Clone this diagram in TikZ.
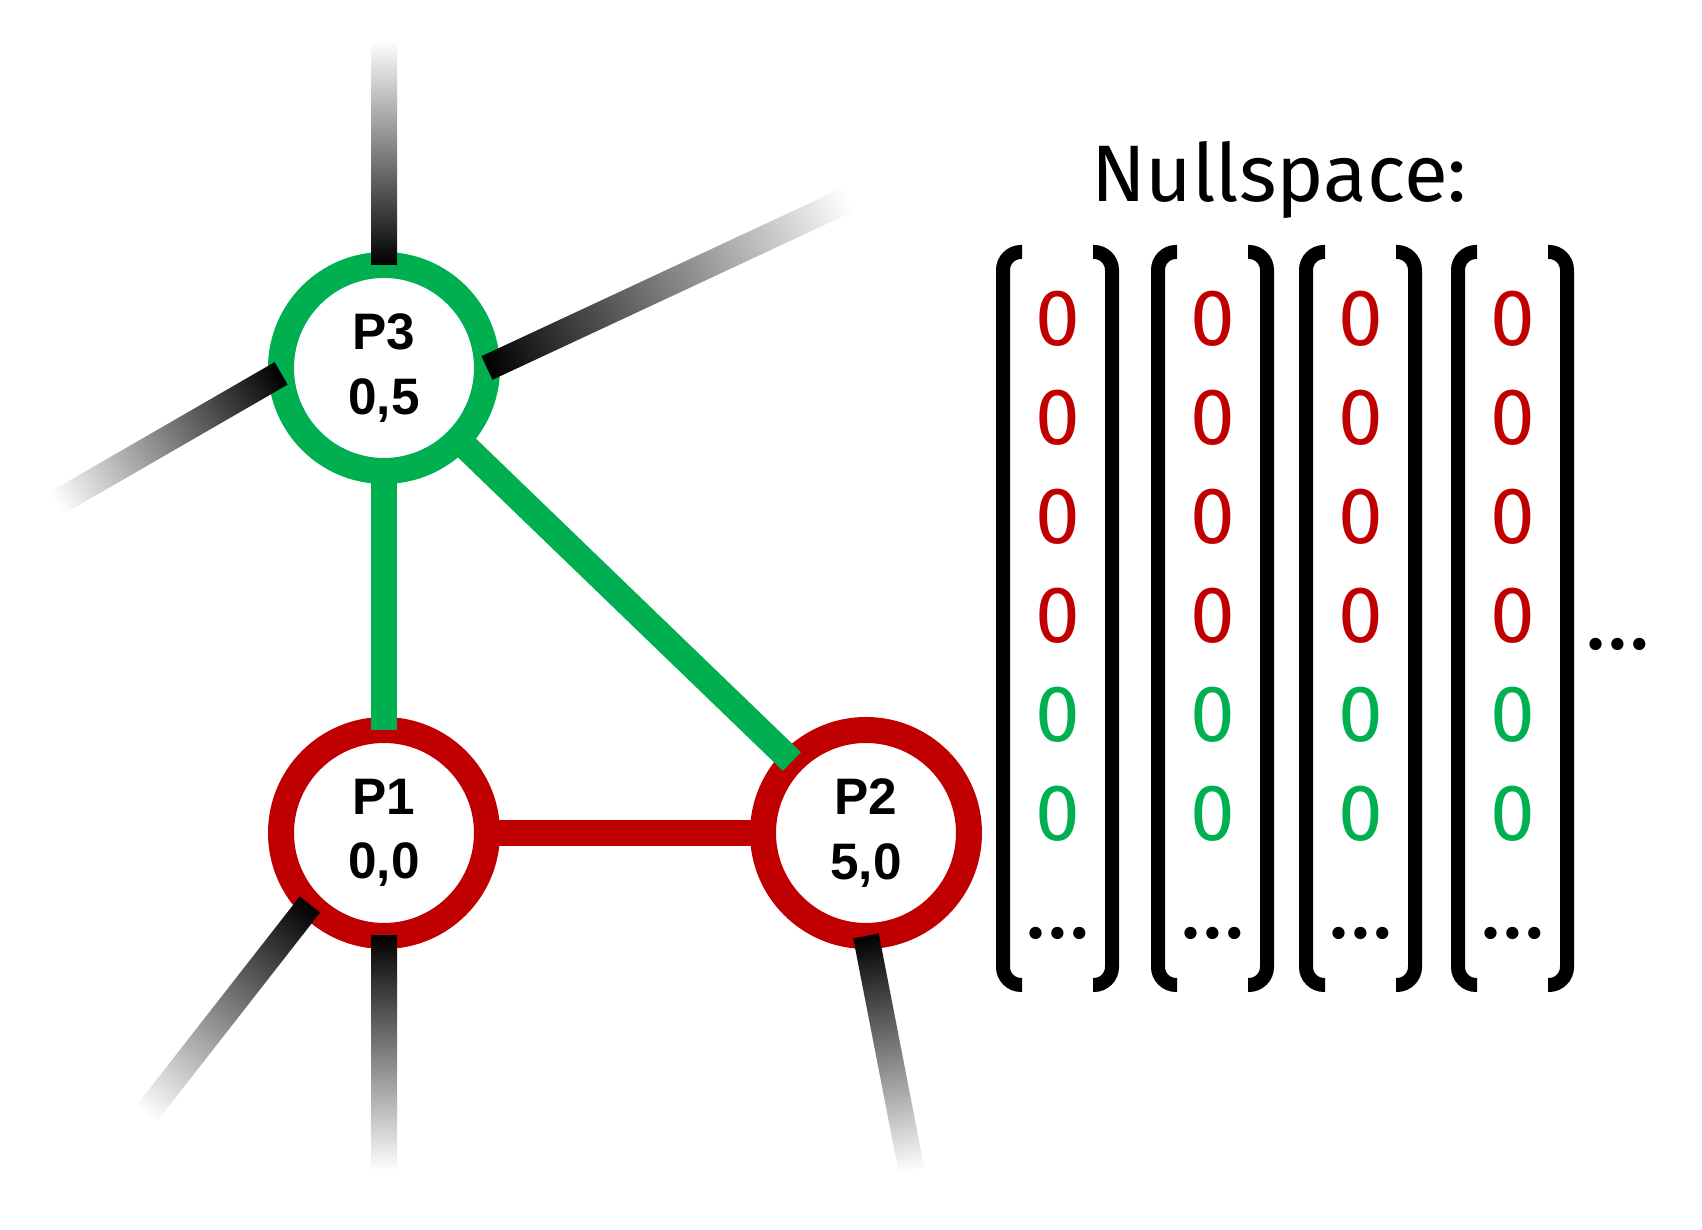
\documentclass[tikz,border=0pt]{standalone}
\usepackage{fontspec}
\newfontfamily\nodefont{Liberation Sans}
\newfontfamily\zerofont{Fira Sans}
\definecolor{ptred}{HTML}{C00000}
\definecolor{ptgreen}{HTML}{00B050}
\tikzset{
  point/.style={circle, draw=#1, line width=0.26cm, fill=white, minimum size=2.06cm,
    inner sep=0pt, outer sep=0pt, align=center,
    font=\nodefont\bfseries\fontsize{14.6}{18.4}\selectfont},
  link/.style={draw=#1, line width=0.26cm},
  stubfade/.style={left color=black, right color=white},
  bracket/.style={line width=0.14cm, rounded corners=0.18cm},
  zero/.style={text=#1, anchor=base, inner sep=0pt,
    font=\zerofont\fontsize{22.8}{27}\selectfont},
  dotsnode/.style={anchor=base, inner sep=0pt,
    font=\zerofont\fontsize{25}{30}\selectfont},
}
\begin{document}
\begin{tikzpicture}
    \useasboundingbox (0,0) rectangle (17.02,12.30);

    % Punkte P1, P2, P3
    \node[point=ptgreen] (p3) at (3.84,8.62) {P3\\0,5};
    \node[point=ptred] (p1) at (3.84,3.97) {P1\\0,0};
    \node[point=ptred] (p2) at (8.66,3.97) {P2\\5,0};

    % Kanten zwischen den Punkten
    \draw[link=ptgreen] (p3) -- (p1);
    \draw[link=ptgreen] (p3) -- (p2);
    \draw[link=ptred] (p1) -- (p2);

    % ausblendende Kanten nach aussen (Knoten/Ansatz/Richtung/Laenge)
    \foreach \nd/\a/\d/\len in {p3/90/90/2.25, p3/183/210/2.6, p3/0/25/4.0,
                                p1/224/232/2.67, p1/270/270/2.35, p2/270/281/2.4}
        \shade[stubfade, transform canvas={shift={(\nd.\a)}, rotate=\d}]
            (0,-0.13) rectangle (\len,0.13);

    % Ueberschrift
    \node[zero=black] (title) at (12.79,10.28) {Nullspace:};

    % vier Spaltenvektoren mit Klammern
    \foreach \c/\x in {1/10.575, 2/12.125, 3/13.605, 4/15.125} {
        \draw[bracket] (\x-0.355,9.78) -- (\x-0.545,9.78) -- (\x-0.545,2.45) -- (\x-0.355,2.45);
        \draw[bracket] (\x+0.355,9.78) -- (\x+0.545,9.78) -- (\x+0.545,2.45) -- (\x+0.355,2.45);
        \foreach \r/\zc in {1/ptred, 2/ptred, 3/ptred, 4/ptred, 5/ptgreen, 6/ptgreen}
            \node[zero=\zc] (z\c\r) at (\x,9.83-0.99*\r) {0};
        \node[dotsnode] (d\c) at (\x,2.91) {…};
    }

    % weitere Vektoren
    \node[dotsnode] (more) at (16.18,5.80) {…};
\end{tikzpicture}
\end{document}
